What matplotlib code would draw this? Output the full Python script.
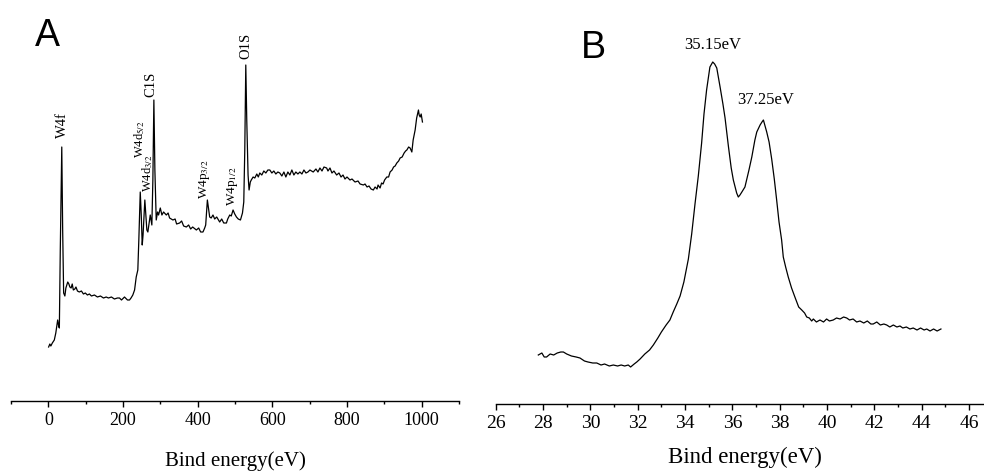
import matplotlib
matplotlib.use("Agg")
import matplotlib.pyplot as plt
import numpy as np

plt.rcParams['font.family'] = ['Liberation Serif', 'DejaVu Serif']
plt.rcParams['mathtext.fontset'] = 'stix'

# ── survey spectrum (panel A): binding energy (eV) vs counts (a.u.) ──────
survey_e = [0.8, 4, 6.7, 10.7, 16, 20, 25, 27.7, 29.5, 32, 36, 38.4, 41, 44.3, 47, 52, 55, 57.7,
            61, 64, 67, 71, 74, 78, 83, 88.6, 94, 99, 104.7, 110, 115.4, 123.5, 131.5, 139.6,
            147.7, 155, 161, 169, 177, 185, 190.6, 196, 204, 212, 217.4, 221.5, 226.3, 231,
            235.4, 239.7, 242.4, 246.2, 248.9, 251.5, 253.7, 258.5, 261.2, 263.9, 266.6, 273,
            277.3, 280, 282.7, 285.4, 289, 292.6, 295.3, 299.9, 304.2, 308.7, 316, 320.8, 324.8,
            333.7, 339.6, 343.6, 351.7, 357, 362.4, 369.7, 375.8, 381.2, 386.6, 396.5, 402.7,
            408, 414.2, 418.8, 421.5, 426, 429.5, 432.2, 436.2, 441, 445.6, 451, 459, 464.4,
            469.8, 477, 480.5, 485.9, 490, 494.8, 499.3, 503.9, 508.7, 514.6, 520, 523.5, 526.2,
            528.9, 531.5, 535, 537.7, 541, 543.6, 548.5, 553, 558.4, 562.4, 566.4, 571.8, 577.2,
            582.6, 588, 593.3, 598.7, 604, 609.4, 614.8, 620, 625.5, 631, 636.2, 641.6, 647,
            652.3, 657.7, 663, 668.5, 673.8, 679.2, 684.6, 690, 695.3, 700.7, 709.5, 716.8,
            722.1, 727.5, 733, 738.3, 745.5, 749, 754.4, 759.7, 765, 772.3, 778.5, 784, 789.3,
            794.6, 800, 808, 813.4, 821.5, 829.5, 835, 843.8, 848.3, 853.7, 859, 864.4, 870.6,
            875.2, 880.5, 883.2, 888.6, 892.6, 896.6, 900.7, 906.6, 911.4, 915.4, 920.8, 924.8,
            928.9, 933.4, 938.3, 942.3, 947.7, 953, 957, 960.3, 965.1, 969, 973.7, 977.2, 982.5,
            986.6, 991.4, 993.3, 996, 998.7, 1002.1]
survey_i = [54, 57, 55, 58, 61, 68, 81, 75, 73, 151, 254, 171, 108, 105, 113, 119, 117, 114,
            113, 117, 111, 112, 114, 110, 109, 110, 107, 108, 106, 107, 105, 106, 104, 105,
            103, 104, 103, 104, 102, 103, 103, 101, 104, 101, 101, 103, 106, 111,
            124, 131, 161, 209, 186, 156, 166, 201, 186, 171, 169, 186,
            176, 221, 301, 231, 181, 189, 186, 193, 186, 189, 186, 188, 183,
            181, 182, 177, 178, 180, 175, 174, 176, 172, 174, 171, 173,
            169, 169, 173, 176, 201, 191, 184, 183, 186, 182, 184, 179, 182,
            178, 178, 182, 186, 185, 191, 187, 184, 182, 181, 188, 199, 251,
            336, 281, 226, 211, 219, 221, 224, 223, 227, 224, 228, 226, 230,
            228, 231, 231, 228, 230, 227, 229, 228, 225, 229, 224, 229, 226,
            231, 226, 229, 227, 229, 227, 231, 228, 229, 231, 229, 232,
            229, 233, 230, 234, 233, 230, 233, 228, 230, 226, 228, 224, 226,
            222, 224, 221, 222, 219, 220, 217, 216, 217, 214, 215, 212, 211,
            214, 212, 216, 213, 218, 217, 221, 224, 224, 229, 231, 234,
            235, 238, 240, 243, 244, 248, 250, 251, 254, 253, 249, 261, 271,
            283, 291, 286, 284, 287, 279]

survey_labels = ['W4f', r'W4d$_{5/2}$', r'W4d$_{3/2}$', 'C1S', r'W4p$_{3/2}$', r'W4p$_{1/2}$', 'O1S']
survey_label_e = [36.8, 244, 266.6, 275.7, 417, 492, 529]
survey_label_i = [263, 243, 209, 304, 202, 195, 342]
survey_label_size = [10.5, 9, 9, 10.5, 9.5, 9.5, 10.5]

# ── W4f high-resolution spectrum (panel B) ───────────────────────────────
w4f_e = [27.80, 27.95, 28.05, 28.15, 28.3, 28.45, 28.6, 28.75, 28.86, 29.0, 29.2, 29.4, 29.56,
         29.75, 29.9, 30.1, 30.27, 30.45, 30.6, 30.8, 30.97, 31.15, 31.3, 31.45, 31.6, 31.7,
         31.85, 31.96, 32.1, 32.3, 32.5, 32.66, 32.85, 33.0, 33.2, 33.36, 33.5, 33.65, 33.79,
         33.95, 34.14, 34.28, 34.42, 34.56, 34.70, 34.8, 34.91, 35.05, 35.17, 35.25, 35.34,
         35.48, 35.6, 35.69, 35.83, 35.95, 36.04, 36.18, 36.25, 36.32, 36.4, 36.53, 36.7,
         36.82, 36.95, 37.03, 37.17, 37.25, 37.31, 37.38, 37.45, 37.55, 37.66, 37.77, 37.87,
         37.97, 38.08, 38.15, 38.25, 38.36, 38.5, 38.64, 38.8, 38.93, 39.05, 39.14, 39.25,
         39.35, 39.42, 39.55, 39.7, 39.85, 39.98, 40.1, 40.26, 40.4, 40.55, 40.7, 40.83,
         40.95, 41.1, 41.25, 41.39, 41.55, 41.7, 41.85, 41.95, 42.1, 42.25, 42.4, 42.52,
         42.65, 42.8, 42.95, 43.08, 43.2, 43.35, 43.5, 43.64, 43.8, 43.95, 44.1, 44.21,
         44.35, 44.5, 44.65, 44.81]
w4f_i = [49, 51, 47, 47, 50, 49, 51, 52, 52, 50, 48, 47, 46,
         43, 42, 41, 41, 39, 40, 38, 39, 38, 39, 38, 39, 37,
         40, 42, 45, 50, 54, 59, 66, 72, 79, 84, 92, 100, 108,
         122, 145, 170, 200, 228, 261, 290, 314, 337, 342, 340, 336,
         317, 300, 286, 258, 236, 224, 211, 207, 209, 212, 217, 234,
         247, 264, 272, 279, 282, 284, 278, 272, 262, 245, 225, 204,
         182, 164, 147, 137, 127, 116, 107, 97, 94, 91, 87, 86,
         83, 85, 82, 84, 82, 85, 83, 84, 86, 85, 87, 86,
         84, 85, 82, 83, 81, 83, 80, 80, 82, 79, 80, 79,
         77, 79, 77, 78, 76, 77, 75, 76, 74, 76, 74, 75,
         73, 75, 73, 75]

peak_labels = ['35.15eV', '37.25eV']
peak_label_e = [35.15, 37.4]
peak_label_i = [351, 296]


def style_axis(ax):
    for s in ('left', 'right', 'top'):
        ax.spines[s].set_visible(False)
    ax.spines['bottom'].set_linewidth(1.0)
    ax.set_yticks([])
    ax.tick_params(axis='x', which='both', direction='out', width=1.0)
    ax.tick_params(axis='x', which='major', length=4, pad=4)
    ax.tick_params(axis='x', which='minor', length=2.5)


fig = plt.figure(figsize=(9.84, 4.72), dpi=100)
W, H = 984.0, 472.0

# panel A
axA = fig.add_axes([11 / W, (H - 401) / H, 448 / W, 381 / H])
axA.plot(survey_e, survey_i, color='black', lw=0.9)
axA.set_xlim(-100, 1100)
axA.set_ylim(0, 381)
axA.set_xticks(np.arange(0, 1001, 200))
axA.set_xticks(np.arange(-100, 1101, 100), minor=True)
style_axis(axA)
axA.tick_params(axis='x', labelsize=13)
axA.set_xlabel('Bind energy(eV)', fontsize=15)
axA.xaxis.set_label_coords(0.5, -0.132)
for lab, e, i, fs in zip(survey_labels, survey_label_e, survey_label_i, survey_label_size):
    axA.text(e, i, lab, rotation=90, ha='center', va='bottom', fontsize=fs)
fig.text(35 / W, 1 - 46 / H, 'A', family='Liberation Sans', fontsize=27)

# panel B
axB = fig.add_axes([495.7 / W, (H - 404) / H, (W - 495.7) / W, 384 / H])
axB.plot(w4f_e, w4f_i, color='black', lw=0.9)
axB.set_xlim(26, 46.63)
axB.set_ylim(0, 384)
axB.set_xticks(np.arange(26, 46.1, 2))
axB.set_xticks(np.arange(26, 46.1, 1), minor=True)
style_axis(axB)
axB.tick_params(axis='x', labelsize=14)
axB.set_xlabel('Bind energy(eV)', fontsize=16.5)
axB.xaxis.set_label_coords(0.51, -0.112)
for lab, e, i in zip(peak_labels, peak_label_e, peak_label_i):
    axB.text(e, i, lab, ha='center', va='bottom', fontsize=12)
fig.text(581 / W, 1 - 58 / H, 'B', family='Liberation Sans', fontsize=27)

fig.savefig('out.png', dpi=100)
